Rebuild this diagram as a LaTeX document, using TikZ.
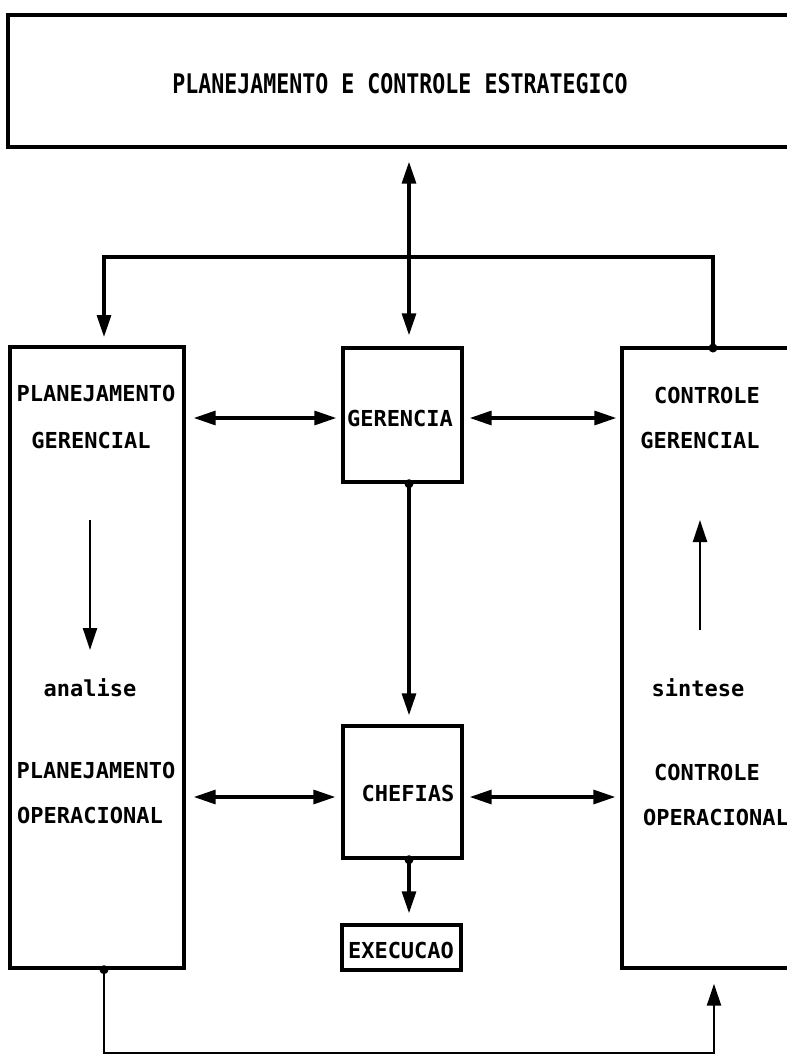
\documentclass[tikz,border=0pt]{standalone}
\usepackage{fontspec}
\usepackage{graphicx}
\usetikzlibrary{arrows.meta}
\newfontfamily\dmono{DejaVu Sans Mono}
\begin{document}
\begin{tikzpicture}[x=1pt, y=-1pt,
  box/.style={draw, line width=3.4pt, inner sep=0pt},
  lbl/.style={font=\dmono\bfseries\fontsize{22}{26}\selectfont, inner sep=0pt},
  ttl/.style={font=\dmono\bfseries\fontsize{21.6}{25}\selectfont, inner sep=0pt},
  link/.style={line width=3.2pt},
  thinlink/.style={line width=2.4pt},
  tip/.style={-{Triangle[length=22pt,width=14pt]}},
  both/.style={{Triangle[length=22pt,width=14pt]}-{Triangle[length=22pt,width=14pt]}},
  dot/.style={circle, fill, inner sep=0pt, minimum size=9pt}]
\useasboundingbox (0,0) rectangle (787,1055);
\clip (0,0) rectangle (787,1055);

% boxes
\node[box, minimum width=784pt, minimum height=132pt] (top) at (400,81) {};
\node[box, minimum width=174pt, minimum height=621pt] (pg) at (97,657.5) {};
\node[box, minimum width=119pt, minimum height=134pt] (ger) at (402.5,415) {};
\node[box, minimum width=190pt, minimum height=620pt] (rc) at (717,658) {};
\node[box, minimum width=119pt, minimum height=132pt] (chf) at (402.5,792) {};
\node[box, minimum width=119pt, minimum height=45pt] (exe) at (401.5,947.5) {};

% labels
\node[ttl] (title) at (400,84) {\scalebox{1}[1.25]{PLANEJAMENTO E CONTROLE ESTRATEGICO}};
\node[lbl] (pg1) at (96,393) {PLANEJAMENTO};
\node[lbl] (pg2) at (91,440) {GERENCIAL};
\node[lbl] (pg3) at (90,688) {analise};
\node[lbl] (pg4) at (96,770) {PLANEJAMENTO};
\node[lbl] (pg5) at (90,815) {OPERACIONAL};
\node[lbl] (rc1) at (707,395) {CONTROLE};
\node[lbl] (rc2) at (700,440) {GERENCIAL};
\node[lbl] (rc3) at (698,688) {sintese};
\node[lbl] (rc4) at (707,772) {CONTROLE};
\node[lbl] (rc5) at (716,817) {OPERACIONAL};
\node[lbl] (gert) at (400,418) {GERENCIA};
\node[lbl] (chft) at (408,793) {CHEFIAS};
\node[lbl] (exet) at (401,950) {EXECUCAO};

% routing points
\coordinate (j) at (409,257);
\coordinate (pgin) at (104,347);
\coordinate (rcout) at (713,348);
\coordinate (r1) at (0,418);
\coordinate (r2) at (0,797);
\coordinate (a1) at (90,520);
\coordinate (a2) at (90,650);
\coordinate (s1) at (700,630);
\coordinate (s2) at (700,520);
\coordinate (b1) at (104,1053);
\coordinate (b2) at (714,1053);

% strategic level links
\draw[link, both, shorten <=13pt, shorten >=11pt] (top.south -| j) -- (ger.north -| j);
\draw[link, tip, shorten >=10pt] (j) -| (pgin);
\draw[link] (j) -| (rcout);
\node[dot] (d1) at (rcout) {};

% horizontal exchanges
\draw[link, both, shorten <=8pt, shorten >=5pt] (pg.east |- r1) -- (ger.west |- r1);
\draw[link, both, shorten <=6pt, shorten >=4pt] (ger.east |- r1) -- (rc.west |- r1);
\draw[link, both, shorten <=8pt, shorten >=6pt] (pg.east |- r2) -- (chf.west |- r2);
\draw[link, both, shorten <=6pt, shorten >=5pt] (chf.east |- r2) -- (rc.west |- r2);

% vertical chain
\node[dot] (d2) at (ger.south -| j) {};
\draw[link, tip, shorten >=9pt] (d2.center) -- (chf.north -| j);
\node[dot] (d3) at (chf.south -| j) {};
\draw[link, tip, shorten >=10pt] (d3.center) -- (exe.north -| j);

% analysis / synthesis
\draw[thinlink, tip] (a1) -- (a2);
\draw[thinlink, tip] (s1) -- (s2);

% feedback loop along the bottom
\node[dot] (d4) at (pg.south -| b1) {};
\draw[thinlink, tip, shorten >=14pt] (d4.center) -- (b1) -- (b2) -- (rc.south -| b2);
\end{tikzpicture}
\end{document}
